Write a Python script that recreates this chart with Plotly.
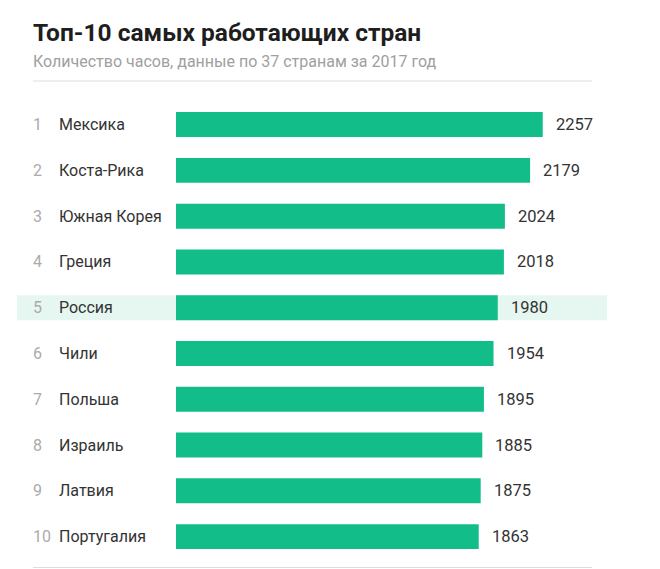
import plotly.graph_objects as go

# Данные: часы работы в год, 2017
ranks = [1, 2, 3, 4, 5, 6, 7, 8, 9, 10]
countries = ["Мексика", "Коста-Рика", "Южная Корея", "Греция", "Россия",
             "Чили", "Польша", "Израиль", "Латвия", "Португалия"]
hours = [2257, 2179, 2024, 2018, 1980, 1954, 1895, 1885, 1875, 1863]
highlight = "Россия"

# страница добавляет отступ 8px, поэтому фигура чуть меньше окна
OFF = 8
W, H = 660 - OFF, 569 - OFF
font = "Roboto"
bar_color = "#13bd89"


def px_x(p):
    return (p - OFF) / W


def px_y(p):
    return (H - (p - OFF)) / H


fig = go.Figure(go.Bar(
    x=hours,
    y=countries,
    orientation="h",
    marker=dict(color=bar_color, line=dict(width=0)),
    hoverinfo="x+y",
))

# подписи: место, страна, значение
ann = []
for r, c, v in zip(ranks, countries, hours):
    ann.append(dict(x=px_x(31), y=c, xref="paper", yref="y", text=str(r),
                    showarrow=False, xanchor="left", yanchor="middle",
                    font=dict(family=font, size=16, color="#ababab")))
    ann.append(dict(x=px_x(57), y=c, xref="paper", yref="y", text=c,
                    showarrow=False, xanchor="left", yanchor="middle",
                    font=dict(family=font, size=16, color="#333333")))
    ann.append(dict(x=v, y=c, xref="x", yref="y", text=str(v), xshift=11,
                    showarrow=False, xanchor="left", yanchor="middle",
                    font=dict(family=font, size=16.5, color="#333333")))

ann.append(dict(x=px_x(31), y=px_y(33), xref="paper", yref="paper",
                text="<b>Топ-10 самых работающих стран</b>", showarrow=False,
                xanchor="left", yanchor="middle",
                font=dict(family=font, size=24.5, color="#1e1e1e")))
ann.append(dict(x=px_x(31), y=px_y(61), xref="paper", yref="paper",
                text="Количество часов, данные по 37 странам за 2017 год",
                showarrow=False, xanchor="left", yanchor="middle",
                font=dict(family=font, size=16, color="#a0a0a0")))

hi = countries.index(highlight)
shapes = [
    dict(type="rect", xref="paper", yref="y", x0=px_x(17), x1=px_x(607),
         y0=hi - 0.273, y1=hi + 0.273, fillcolor="#e5f7f0",
         line=dict(width=0), layer="below"),
    dict(type="line", xref="paper", yref="paper", x0=px_x(33), x1=px_x(592),
         y0=px_y(81), y1=px_y(81), line=dict(color="#dddddd", width=1)),
    dict(type="line", xref="paper", yref="paper", x0=px_x(33), x1=px_x(592),
         y0=px_y(567.5), y1=px_y(567.5), line=dict(color="#dddddd", width=1)),
]

fig.update_layout(
    width=W, height=H,
    margin=dict(l=0, r=0, t=0, b=0),
    plot_bgcolor="white", paper_bgcolor="white",
    showlegend=False,
    bargap=0.455,
    xaxis=dict(domain=[px_x(176), 1], range=[0, (W - (176 - OFF)) / 0.1625],
               visible=False, fixedrange=True),
    yaxis=dict(domain=[px_y(559.5), px_y(101.7)], autorange="reversed",
               visible=False, fixedrange=True),
    annotations=ann,
    shapes=shapes,
)

fig.write_html("out.html")
